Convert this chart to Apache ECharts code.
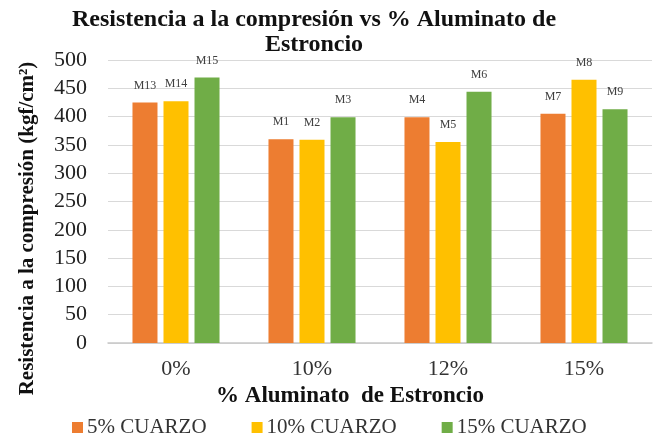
<!DOCTYPE html>
<html>
<head>
<meta charset="utf-8">
<script src="https://cdn.jsdelivr.net/npm/echarts@6/dist/echarts.min.js"></script>
<style>
  html, body { margin: 0; padding: 0; background: #fff; }
  #chart { width: 655px; height: 438px; }
</style>
</head>
<body>
<div id="chart"></div>
<script>
// Compressive strength by strontium aluminate content and quartz level
const categories = ['0%', '10%', '12%', '15%'];
const seriesNames = ['5% CUARZO', '10% CUARZO', '15% CUARZO'];
const cuarzo5 = [425, 360, 399, 405];
const cuarzo10 = [427, 359, 355, 465];
const cuarzo15 = [469, 399, 444, 413];
const labels5 = ['M13', 'M1', 'M4', 'M7'];
const labels10 = ['M14', 'M2', 'M5', 'M8'];
const labels15 = ['M15', 'M3', 'M6', 'M9'];
const colors = ['#ED7D31', '#FFC000', '#70AD47'];

const serif = '"Liberation Serif", "Times New Roman", serif';

function makeSeries(name, values, tags, color) {
  return {
    name: name,
    type: 'bar',
    data: values,
    barGap: '24%',
    barCategoryGap: '36%',
    itemStyle: { color: color },
    label: {
      show: true,
      position: 'top',
      distance: 11,
      fontFamily: serif,
      fontSize: 12,
      color: '#404040',
      formatter: p => tags[p.dataIndex]
    }
  };
}

const chart = echarts.init(document.getElementById('chart'));
chart.setOption({
  animation: false,
  textStyle: { fontFamily: serif },
  title: {
    text: 'Resistencia a la compresión vs % Aluminato de\nEstroncio',
    left: 309,
    textAlign: 'center',
    top: 2,
    padding: 5,
    textStyle: { fontFamily: serif, fontSize: 24, fontWeight: 'bold', color: '#111', lineHeight: 25 }
  },
  legend: {
    top: 417,
    left: 72,
    padding: 0,
    itemWidth: 11,
    itemHeight: 11,
    itemGap: 45,
    icon: 'rect',
    textStyle: { fontFamily: serif, fontSize: 21, color: '#333', padding: [0, 0, 0, -1] },
    data: seriesNames
  },
  grid: { left: 108, right: 3, top: 60, bottom: 95 },
  xAxis: {
    type: 'category',
    data: categories,
    axisTick: { show: false },
    axisLine: { lineStyle: { color: '#c8c8c8', width: 1.5 } },
    axisLabel: { fontFamily: serif, fontSize: 22, color: '#333', margin: 15 },
    name: '% Aluminato  de Estroncio',
    nameLocation: 'middle',
    nameGap: 32,
    nameTextStyle: { fontFamily: serif, fontSize: 23, fontWeight: 'bold', color: '#111', padding: [0, 0, 0, -60] }
  },
  yAxis: {
    type: 'value',
    min: 0,
    max: 500,
    interval: 50,
    axisLine: { show: false },
    axisTick: { show: false },
    splitLine: { lineStyle: { color: '#d9d9d9', width: 1 } },
    axisLabel: { fontFamily: serif, fontSize: 22, color: '#222', margin: 21 },
    name: 'Resistencia a la compresión (kgf/cm²)',
    nameLocation: 'middle',
    nameRotate: 90,
    nameGap: 70,
    nameTextStyle: { fontFamily: serif, fontSize: 21, fontWeight: 'bold', color: '#111', padding: [0, 0, 0, -54] }
  },
  series: [
    makeSeries(seriesNames[0], cuarzo5, labels5, colors[0]),
    makeSeries(seriesNames[1], cuarzo10, labels10, colors[1]),
    makeSeries(seriesNames[2], cuarzo15, labels15, colors[2])
  ]
});
</script>
</body>
</html>
